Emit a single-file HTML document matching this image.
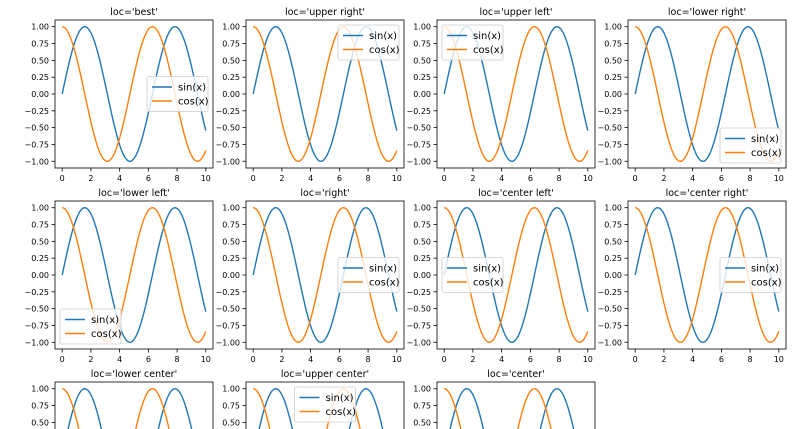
<!DOCTYPE html>
<html><head><meta charset="utf-8"><style>
html,body{margin:0;padding:0;background:#fff;width:800px;height:429px;overflow:hidden}
svg{display:block;font-family:"DejaVu Sans","Liberation Sans",sans-serif;overflow:hidden}
</style></head><body>
<svg id="fig" width="800" height="429" viewBox="0 0 800 429" xmlns="http://www.w3.org/2000/svg">
<defs><clipPath id="frameclip"><rect x="0" y="0" width="800" height="429"/></clipPath></defs>
<g id="root" clip-path="url(#frameclip)"></g>
</svg>
<script>
const locs = ['best','upper right','upper left','lower right','lower left','right','center left','center right','lower center','upper center','center'];
const seriesNames = ['sin(x)','cos(x)'];
const seriesColors = ['#1f77b4','#ff7f0e'];
const xTicks = [0,2,4,6,8,10];
const yTicks = [-1,-0.75,-0.5,-0.25,0,0.25,0.5,0.75,1];
const yTickLabels = ['\u22121.00','\u22120.75','\u22120.50','\u22120.25','0.00','0.25','0.50','0.75','1.00'];
const xMin = 0, xMax = 10, nPts = 200;
const xs = []; for (let i=0;i<nPts;i++) xs.push(xMin+(xMax-xMin)*i/(nPts-1));
const sinVals = xs.map(v=>Math.sin(v));
const cosVals = xs.map(v=>Math.cos(v));
const series = [sinVals, cosVals];

const NS='http://www.w3.org/2000/svg';
const fig=document.getElementById('root');
function mk(tag,attrs,parent){const e=document.createElementNS(NS,tag);for(const k in attrs)e.setAttribute(k,attrs[k]);(parent||fig).appendChild(e);return e;}
const AX_L0=55, AX_T0=20, AX_W=158, AX_H=148, COL_P=191, ROW_P=181;
const LW=61, LH=35, PAD=5;

locs.forEach((loc,idx)=>{
  const col=idx%4,row=Math.floor(idx/4);
  const L=AX_L0+col*COL_P, T=AX_T0+row*ROW_P, R=L+AX_W, B=T+AX_H;
  const xr=(xMax-xMin)*1.1, x0=xMin-(xMax-xMin)*0.05;
  const sx=v=>L+(v-x0)/xr*AX_W;
  const sy=v=>T+(1.1-v)/2.2*AX_H;
  const g=mk('g',{});
  
  
  const t=mk('text',{x:(L+R)/2,y:T-5,'text-anchor':'middle','font-size':'9.5',fill:'#000'},g);
  t.textContent="loc='"+loc+"'";
  
  
  series.forEach((vals,si)=>{
    const d=vals.map((v,i)=>(i?'L':'M')+sx(xs[i]).toFixed(2)+' '+sy(v).toFixed(2)).join(' ');
    const p=mk('path',{d:d,fill:'none',stroke:seriesColors[si],'stroke-width':1.4},g);
    
    
  });
  const fr=mk('rect',{x:L,y:T,width:AX_W,height:AX_H,fill:'none',stroke:'#000','stroke-width':0.8},g);
  
  
  xTicks.forEach(v=>{
    mk('line',{x1:sx(v),x2:sx(v),y1:B,y2:B+3.5,stroke:'#000','stroke-width':0.8},g);
    const tx=mk('text',{x:sx(v),y:B+13,'text-anchor':'middle','font-size':'8',fill:'#000'},g);
    tx.textContent=String(v);
    
    
  });
  yTicks.forEach((v,i)=>{
    mk('line',{x1:L-3.5,x2:L,y1:sy(v),y2:sy(v),stroke:'#000','stroke-width':0.8},g);
    const ty=mk('text',{x:L-6,y:sy(v)+3,'text-anchor':'end','font-size':'8',fill:'#000'},g);
    ty.textContent=yTickLabels[i];
    
    
  });
  const cx=(L+R)/2-LW/2, cy=(T+B)/2-LH/2;
  const m={'best':[R-PAD-LW,cy],'upper right':[R-PAD-LW,T+PAD],'upper left':[L+PAD,T+PAD],'lower right':[R-PAD-LW,B-PAD-LH],
    'lower left':[L+PAD,B-PAD-LH],'right':[R-PAD-LW,cy],'center left':[L+PAD,cy],'center right':[R-PAD-LW,cy],
    'lower center':[cx,B-PAD-LH],'upper center':[cx,T+PAD],'center':[cx,cy]};
  const [lx,ly]=m[loc];
  const lg=mk('g',{},g);
  
  
  mk('rect',{x:lx,y:ly,width:LW,height:LH,rx:2,fill:'#fff','fill-opacity':0.8,stroke:'#ccc','stroke-width':0.8},lg);
  seriesNames.forEach((n,si)=>{
    const yy=ly+10.5+si*14;
    mk('line',{x1:lx+5,x2:lx+25,y1:yy,y2:yy,stroke:seriesColors[si],'stroke-width':1.4},lg);
    const lt=mk('text',{x:lx+31,y:yy+3.5,'font-size':'10',fill:'#000'},lg);
    lt.textContent=n;
    
    
  });
});
</script>
</body></html>
